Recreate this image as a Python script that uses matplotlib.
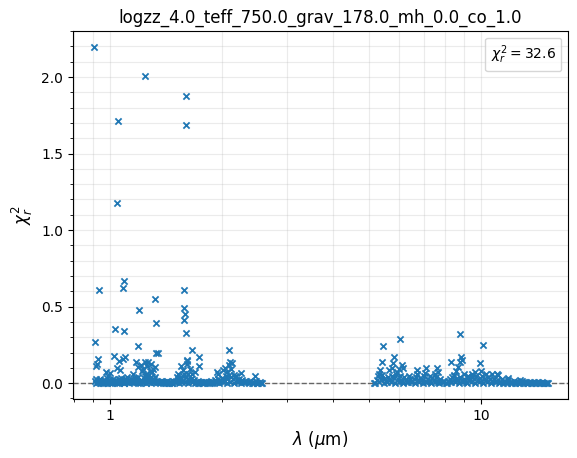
import matplotlib
matplotlib.use('Agg')
import matplotlib.pyplot as plt
import matplotlib.ticker as mticker
import numpy as np

title = 'logzz_4.0_teff_750.0_grav_178.0_mh_0.0_co_1.0'
chi2_total = 32.6

# near-zero band, first wavelength block (micron)
seg1_wl = [0.912, 0.918, 0.925, 0.931, 0.938, 0.944, 0.951, 0.958, 0.965, 0.972,
           0.979, 0.986, 0.993, 1.000, 1.008, 1.016, 1.023, 1.031, 1.039, 1.047,
           1.055, 1.063, 1.071, 1.080, 1.088, 1.097, 1.106, 1.115, 1.124, 1.133,
           1.142, 1.152, 1.161, 1.171, 1.181, 1.191, 1.201, 1.211, 1.222, 1.232,
           1.243, 1.254, 1.265, 1.276, 1.288, 1.299, 1.311, 1.323, 1.335, 1.347,
           1.360, 1.372, 1.385, 1.398, 1.411, 1.425, 1.438, 1.452, 1.466, 1.480,
           1.495, 1.509, 1.524, 1.539, 1.555, 1.570, 1.586, 1.602, 1.618, 1.635,
           1.652, 1.669, 1.686, 1.704, 1.722, 1.740, 1.758, 1.777, 1.796, 1.815,
           1.835, 1.855, 1.875, 1.896, 1.917, 1.938, 1.960, 1.982, 2.004, 2.027,
           2.050, 2.073, 2.097, 2.121, 2.146, 2.171, 2.196, 2.222, 2.248, 2.275,
           2.302, 2.330, 2.358, 2.386, 2.415, 2.445, 2.475, 2.505, 2.536, 2.567]
seg1_chi = [0.012, 0.025, 0.006, 0.018, 0.030, 0.009, 0.015, 0.004, 0.022, 0.011,
            0.035, 0.008, 0.019, 0.003, 0.014, 0.027, 0.010, 0.021, 0.005, 0.016,
            0.024, 0.009, 0.033, 0.013, 0.004, 0.020, 0.028, 0.007, 0.017, 0.012,
            0.026, 0.005, 0.018, 0.031, 0.010, 0.040, 0.014, 0.022, 0.006, 0.034,
            0.045, 0.019, 0.052, 0.028, 0.038, 0.012, 0.024, 0.041, 0.017, 0.009,
            0.006, 0.013, 0.003, 0.010, 0.005, 0.012, 0.002, 0.008, 0.004, 0.011,
            0.007, 0.015, 0.022, 0.035, 0.028, 0.048, 0.060, 0.038, 0.025, 0.018,
            0.030, 0.012, 0.021, 0.008, 0.014, 0.004, 0.010, 0.003, 0.007, 0.005,
            0.009, 0.004, 0.012, 0.006, 0.018, 0.010, 0.026, 0.015, 0.034, 0.022,
            0.045, 0.030, 0.055, 0.038, 0.026, 0.040, 0.018, 0.029, 0.012, 0.020,
            0.008, 0.015, 0.005, 0.011, 0.003, 0.009, 0.014, 0.004, 0.007, 0.002]
seg1_fill_wl = [0.915, 0.928, 0.941, 0.955, 0.969, 0.983, 0.997, 1.012, 1.027, 1.043,
                1.059, 1.076, 1.093, 1.110, 1.128, 1.147, 1.166, 1.186, 1.206, 1.227,
                1.248, 1.271, 1.293, 1.317, 1.341, 1.366, 1.391, 1.418, 1.445, 1.473,
                1.502, 1.531, 1.562, 1.594, 1.627, 1.660, 1.695, 1.731, 1.768, 1.806,
                1.845, 1.885, 1.927, 1.971, 2.015, 2.062, 2.109, 2.158, 2.209, 2.261,
                2.316, 2.372, 2.430, 2.490, 2.551]
seg1_fill_chi = [0.002, 0.006, 0.001, 0.004, 0.008, 0.003, 0.005, 0.001, 0.007, 0.002,
                 0.004, 0.009, 0.003, 0.006, 0.001, 0.005, 0.008, 0.002, 0.004, 0.010,
                 0.003, 0.007, 0.001, 0.005, 0.009, 0.002, 0.006, 0.001, 0.004, 0.003,
                 0.008, 0.002, 0.005, 0.010, 0.003, 0.006, 0.001, 0.004, 0.002, 0.007,
                 0.003, 0.001, 0.005, 0.002, 0.008, 0.004, 0.009, 0.003, 0.006, 0.002,
                 0.005, 0.001, 0.004, 0.002, 0.003]
# larger residuals, first block
seg1_peak_wl = [0.905, 1.243, 1.051, 1.603, 1.603, 1.044, 0.936, 1.093, 1.084, 1.324,
                1.199, 1.586, 1.586, 1.595, 1.580, 1.598, 1.333, 1.033, 1.093, 0.913,
                1.192, 1.330, 1.349, 1.666, 2.096, 1.734, 0.930, 0.922, 0.917, 1.027,
                1.098, 1.086, 1.055, 1.042, 1.066, 1.177, 1.192, 1.218, 1.245, 1.268,
                1.256, 1.292, 1.308, 1.322, 1.250, 1.260, 1.278, 1.300, 1.613, 1.557,
                1.574, 1.528, 1.513, 1.608, 1.734, 1.661, 1.694, 1.640, 2.105, 2.131,
                2.088, 2.041, 2.012, 1.940, 1.958, 2.070, 2.120, 2.255, 2.464, 0.975,
                1.000, 0.990, 1.150, 1.230, 1.210, 1.610, 1.620, 2.160, 2.190, 1.110]
seg1_peak_chi = [2.196, 2.006, 1.710, 1.876, 1.690, 1.180, 0.610, 0.667, 0.620, 0.550,
                 0.477, 0.610, 0.490, 0.450, 0.410, 0.330, 0.390, 0.357, 0.338, 0.266,
                 0.242, 0.200, 0.196, 0.216, 0.216, 0.170, 0.157, 0.124, 0.110, 0.176,
                 0.170, 0.158, 0.144, 0.100, 0.088, 0.135, 0.105, 0.082, 0.139, 0.135,
                 0.112, 0.125, 0.094, 0.106, 0.063, 0.041, 0.080, 0.070, 0.144, 0.110,
                 0.085, 0.063, 0.041, 0.128, 0.113, 0.063, 0.076, 0.095, 0.139, 0.129,
                 0.116, 0.096, 0.085, 0.074, 0.063, 0.070, 0.090, 0.067, 0.048, 0.076,
                 0.067, 0.050, 0.060, 0.095, 0.120, 0.150, 0.060, 0.055, 0.045, 0.040]

# near-zero band, second wavelength block
seg2_wl = [5.16, 5.23, 5.29, 5.36, 5.42, 5.49, 5.56, 5.63, 5.70, 5.77,
           5.84, 5.91, 5.99, 6.06, 6.14, 6.21, 6.29, 6.37, 6.45, 6.53,
           6.61, 6.69, 6.78, 6.86, 6.95, 7.03, 7.12, 7.21, 7.30, 7.39,
           7.48, 7.58, 7.67, 7.77, 7.86, 7.96, 8.06, 8.16, 8.26, 8.37,
           8.47, 8.58, 8.68, 8.79, 8.90, 9.01, 9.13, 9.24, 9.36, 9.47,
           9.59, 9.71, 9.83, 9.96, 10.08, 10.21, 10.33, 10.46, 10.59, 10.73,
           10.86, 11.00, 11.13, 11.27, 11.41, 11.56, 11.70, 11.85, 12.00, 12.15,
           12.30, 12.45, 12.61, 12.77, 12.93, 13.09, 13.25, 13.42, 13.59, 13.76,
           13.93, 14.10, 14.28, 14.46, 14.64, 14.82, 15.00, 15.18]
seg2_chi = [0.004, 0.020, 0.045, 0.030, 0.055, 0.025, 0.012, 0.040, 0.018, 0.050,
            0.035, 0.060, 0.028, 0.048, 0.015, 0.038, 0.022, 0.010, 0.030, 0.016,
            0.025, 0.040, 0.012, 0.032, 0.020, 0.045, 0.008, 0.028, 0.015, 0.035,
            0.022, 0.042, 0.010, 0.030, 0.006, 0.015, 0.004, 0.012, 0.025, 0.040,
            0.050, 0.030, 0.020, 0.038, 0.012, 0.026, 0.008, 0.032, 0.018, 0.040,
            0.028, 0.045, 0.022, 0.035, 0.050, 0.030, 0.018, 0.038, 0.025, 0.015,
            0.030, 0.012, 0.022, 0.008, 0.025, 0.015, 0.006, 0.018, 0.010, 0.004,
            0.014, 0.006, 0.010, 0.003, 0.012, 0.005, 0.008, 0.002, 0.009, 0.004,
            0.007, 0.003, 0.006, 0.002, 0.005, 0.003, 0.004, 0.002]
seg2_fill_wl = [5.19, 5.32, 5.46, 5.59, 5.73, 5.88, 6.02, 6.17, 6.33, 6.49,
                6.65, 6.82, 6.99, 7.16, 7.34, 7.53, 7.72, 7.91, 8.11, 8.31,
                8.52, 8.74, 8.96, 9.18, 9.41, 9.65, 9.90, 10.14, 10.40, 10.66,
                10.93, 11.20, 11.49, 11.78, 12.07, 12.38, 12.69, 13.01, 13.34, 13.67,
                14.01, 14.37, 14.73, 15.09]
seg2_fill_chi = [0.003, 0.008, 0.002, 0.006, 0.010, 0.004, 0.007, 0.001, 0.005, 0.009,
                 0.002, 0.006, 0.003, 0.008, 0.001, 0.005, 0.004, 0.007, 0.002, 0.006,
                 0.009, 0.003, 0.005, 0.001, 0.007, 0.004, 0.008, 0.002, 0.006, 0.003,
                 0.005, 0.002, 0.004, 0.001, 0.003, 0.002, 0.004, 0.001, 0.003, 0.002,
                 0.001, 0.003, 0.002, 0.001]
seg2_peak_wl = [5.45, 6.05, 8.77, 10.13, 5.40, 5.34, 5.31, 5.83, 5.80, 5.74,
                5.92, 6.03, 6.12, 6.16, 5.65, 6.71, 6.73, 7.09, 7.07, 7.60,
                7.68, 7.52, 8.30, 8.84, 8.77, 8.65, 8.57, 8.46, 9.00, 9.44,
                9.64, 9.95, 8.90, 10.34, 10.70, 11.02, 11.12, 11.82, 12.74, 6.40,
                7.30, 9.20, 10.00]
seg2_peak_chi = [0.242, 0.288, 0.320, 0.248, 0.137, 0.085, 0.063, 0.168, 0.133, 0.096,
                 0.074, 0.090, 0.118, 0.096, 0.085, 0.059, 0.085, 0.096, 0.065, 0.096,
                 0.074, 0.059, 0.137, 0.172, 0.139, 0.107, 0.080, 0.052, 0.063, 0.063,
                 0.074, 0.129, 0.150, 0.060, 0.063, 0.063, 0.052, 0.031, 0.020, 0.045,
                 0.050, 0.050, 0.080]

wl = np.concatenate([seg1_wl, seg1_fill_wl, seg1_peak_wl, seg2_wl, seg2_fill_wl, seg2_peak_wl])
chi = np.concatenate([seg1_chi, seg1_fill_chi, seg1_peak_chi, seg2_chi, seg2_fill_chi, seg2_peak_chi])

fig = plt.figure(figsize=(5.77, 4.58), dpi=100)
ax = fig.add_axes([0.126, 0.128, 0.859, 0.805])

ax.scatter(wl, chi, marker='x', s=20, color='tab:blue', linewidths=1.3, zorder=3)
ax.axhline(0, color='0.4', ls='--', lw=1, zorder=2)
ax.plot([], [], ' ', label=r'$\chi_r^2 = %.1f$' % chi2_total)

ax.set_xscale('log')
ax.set_xlim(0.793, 17.2)
ax.set_ylim(-0.106, 2.303)
ax.xaxis.set_major_formatter(mticker.FuncFormatter(lambda v, p: '%g' % v))
ax.xaxis.set_minor_formatter(mticker.NullFormatter())
ax.yaxis.set_major_locator(mticker.MultipleLocator(0.5))
ax.yaxis.set_minor_locator(mticker.MultipleLocator(0.1))
ax.grid(True, which='both', alpha=0.25)

ax.set_xlabel(r'$\lambda$ ($\mu$m)', fontsize=12)
ax.set_ylabel(r'$\chi_r^2$', fontsize=12)
ax.set_title(title)
ax.legend(loc='upper right', handlelength=0, handletextpad=0)

fig.savefig('out.png', dpi=100)
